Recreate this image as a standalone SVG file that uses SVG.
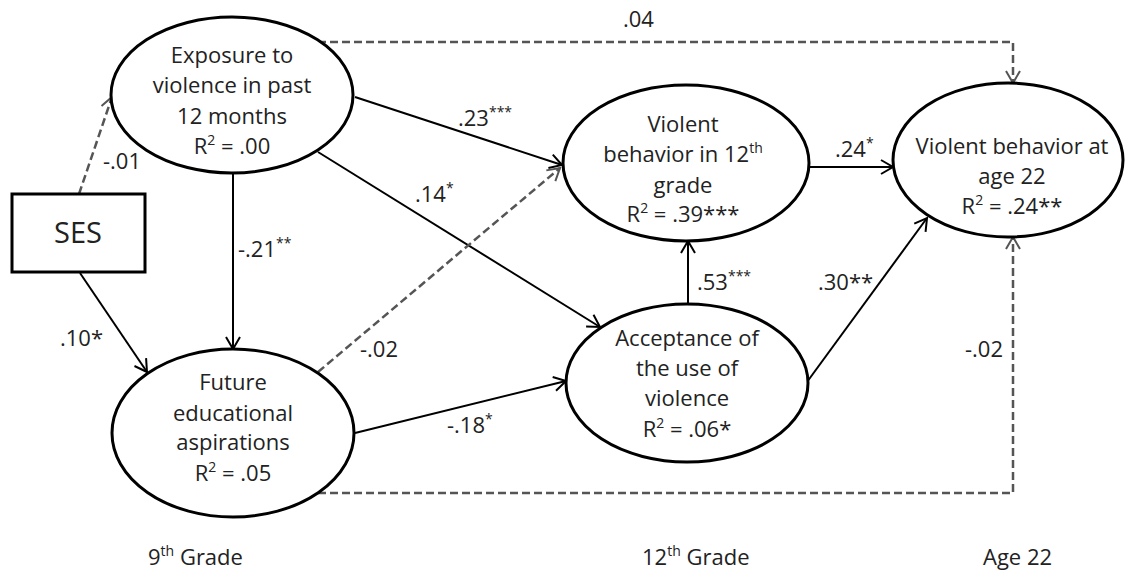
<svg xmlns="http://www.w3.org/2000/svg" width="1125" height="571" viewBox="0 0 1125 571">
<style>
text{font-family:"Open Sans","Noto Sans","DejaVu Sans",sans-serif;font-size:22px;fill:#222}
.node ellipse,.node rect{fill:#fff;stroke:#000;stroke-width:3}
.solid{fill:none;stroke:#000;stroke-width:2}
.dash{fill:none;stroke:#555;stroke-width:2.5;stroke-dasharray:8,4}
.c{text-anchor:middle}
.sup{font-size:14px}
.big{font-size:29px}
</style>
<defs>
<marker id="ab" markerUnits="userSpaceOnUse" markerWidth="30" markerHeight="30" refX="0" refY="0" viewBox="-15 -15 30 30" orient="auto" overflow="visible">
<path d="M-12,-7 L0,0 L-12,7" fill="none" stroke="#000" stroke-width="2"/>
</marker>
<marker id="ag" markerUnits="userSpaceOnUse" markerWidth="30" markerHeight="30" refX="0" refY="0" viewBox="-15 -15 30 30" orient="auto" overflow="visible">
<path d="M-12,-7 L0,0 L-12,7" fill="none" stroke="#555" stroke-width="2"/>
</marker>
</defs>
<rect width="1125" height="571" fill="#fff"/>
<g id="connectors">
<path class="dash" d="M79,194 L112,97" marker-end="url(#ag)"/>
<path class="solid" d="M80,273 L147,372" marker-end="url(#ab)"/>
<path class="solid" d="M233,173 L233,349" marker-end="url(#ab)"/>
<path class="solid" d="M355,97 L562,165" marker-end="url(#ab)"/>
<path class="solid" d="M318,152 L600,327" marker-end="url(#ab)"/>
<path class="dash" d="M318,372 L560,168" marker-end="url(#ag)"/>
<path class="solid" d="M355,433 L566,381" marker-end="url(#ab)"/>
<path class="solid" d="M688,304 L688,241" marker-end="url(#ab)"/>
<path class="solid" d="M810,167 L893,167" marker-end="url(#ab)"/>
<path class="solid" d="M807,382 L927,218" marker-end="url(#ab)"/>
<path class="dash" d="M318,42 L1013,42 L1013,83" marker-end="url(#ag)"/>
<path class="dash" d="M318,493 L1013,493 L1013,237" marker-end="url(#ag)"/>
<text x="103" y="169">-.01</text>
<text x="60" y="346">.10*</text>
<text x="238" y="257">-.21<tspan class="sup" dy="-9">**</tspan></text>
<text x="458" y="126">.23<tspan class="sup" dy="-9">***</tspan></text>
<text x="415" y="202">.14<tspan class="sup" dy="-9">*</tspan></text>
<text x="360" y="357">-.02</text>
<text x="447" y="433">-.18<tspan class="sup" dy="-9">*</tspan></text>
<text x="697" y="290">.53<tspan class="sup" dy="-9">***</tspan></text>
<text x="835" y="157">.24<tspan class="sup" dy="-9">*</tspan></text>
<text x="818" y="290">.30**</text>
<text x="623" y="27">.04</text>
<text x="965" y="357">-.02</text>
</g>
<g id="ses" class="node">
<rect x="12" y="194" width="133" height="78"/>
<text class="c big" x="78" y="243">SES</text>
</g>
<g id="exposure" class="node">
<ellipse cx="232" cy="95" rx="121" ry="78"/>
<text class="c" x="232" y="63">Exposure to</text>
<text class="c" x="232" y="93">violence in past</text>
<text class="c" x="232" y="124">12 months</text>
<text class="c" x="232" y="154">R<tspan class="sup" dy="-9">2</tspan><tspan dy="9"> = .00</tspan></text>
</g>
<g id="future" class="node">
<ellipse cx="233" cy="433" rx="121" ry="84"/>
<text class="c" x="233" y="390">Future</text>
<text class="c" x="233" y="421">educational</text>
<text class="c" x="233" y="450">aspirations</text>
<text class="c" x="233" y="481">R<tspan class="sup" dy="-9">2</tspan><tspan dy="9"> = .05</tspan></text>
</g>
<g id="violent12" class="node">
<ellipse cx="686" cy="163" rx="123" ry="78"/>
<text class="c" x="683" y="132">Violent</text>
<text class="c" x="683" y="162">behavior in 12<tspan class="sup" dy="-9">th</tspan></text>
<text class="c" x="683" y="193">grade</text>
<text class="c" x="683" y="222">R<tspan class="sup" dy="-9">2</tspan><tspan dy="9"> = .39***</tspan></text>
</g>
<g id="acceptance" class="node">
<ellipse cx="687" cy="383" rx="121" ry="79"/>
<text class="c" x="687" y="346">Acceptance of</text>
<text class="c" x="687" y="376">the use of</text>
<text class="c" x="687" y="406">violence</text>
<text class="c" x="687" y="437">R<tspan class="sup" dy="-9">2</tspan><tspan dy="9"> = .06*</tspan></text>
</g>
<g id="age22" class="node">
<ellipse cx="1008" cy="160" rx="115" ry="77"/>
<text class="c" x="1012" y="154">Violent behavior at</text>
<text class="c" x="1012" y="184">age 22</text>
<text class="c" x="1012" y="214">R<tspan class="sup" dy="-9">2</tspan><tspan dy="9"> = .24**</tspan></text>
</g>
<g id="timeline">
<text x="148" y="565">9<tspan class="sup" dy="-9">th</tspan><tspan dy="9"> Grade</tspan></text>
<text x="642" y="565">12<tspan class="sup" dy="-9">th</tspan><tspan dy="9"> Grade</tspan></text>
<text x="983" y="565">Age 22</text>
</g>
</svg>
